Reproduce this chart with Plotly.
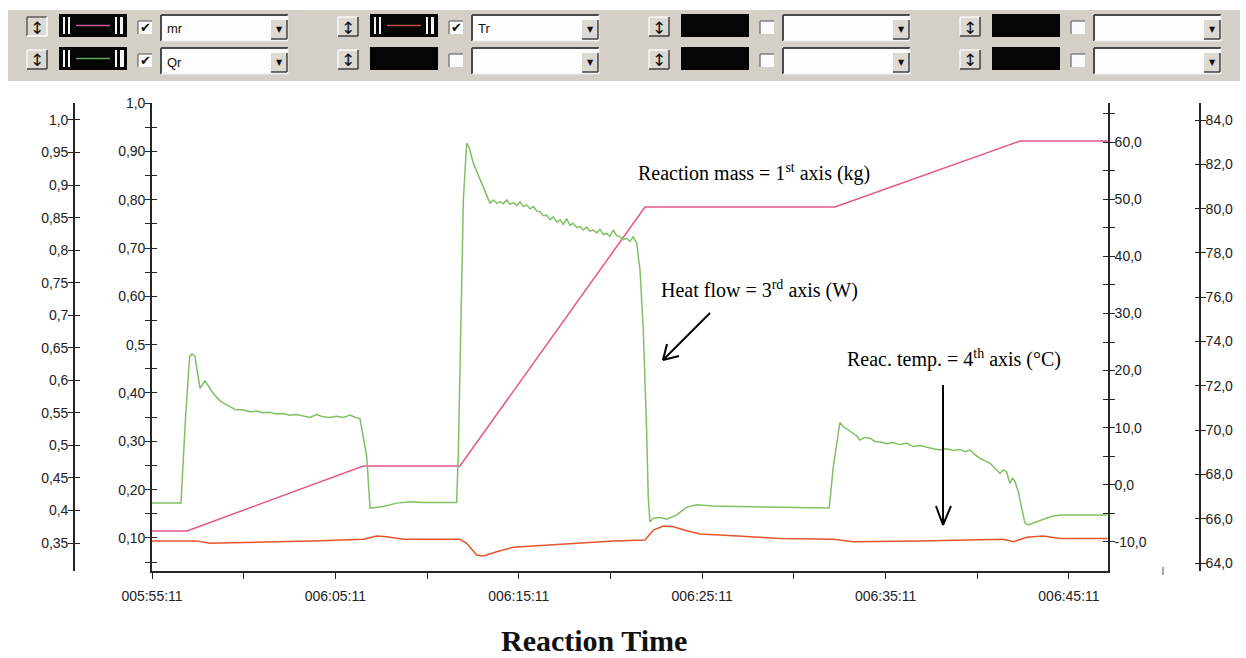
import plotly.graph_objects as go

FIG_W, FIG_H = 1246, 658

# ---------------- data ----------------
time_tick_vals = [0, 10, 20, 30, 40, 50]
time_tick_text = ["005:55:11", "006:05:11", "006:15:11", "006:25:11", "006:35:11", "006:45:11"]
time_minor = [5, 15, 25, 35, 45]

mass_min = [0, 1.91, 11.52, 16.79, 26.88, 37.24, 47.33, 52.13]
mass_kg = [0.3685, 0.3685, 0.4683, 0.4683, 0.8663, 0.8663, 0.9677, 0.9677]

heat_min = [0, 1.58, 1.82, 2.05, 2.18, 2.34, 2.62, 2.89, 3.34, 3.71, 4.07, 4.53, 4.98, 5.35, 5.71,
            6.07, 6.43, 6.8, 7.16, 7.52, 7.89, 8.25, 8.61, 8.98, 9.34, 9.71, 10.07, 10.43, 10.8,
            11.1, 11.34, 11.52, 11.71, 11.89, 12.25, 12.61, 13.34, 14.07, 14.79, 16.61,
            16.7, 16.83, 16.98, 17.16, 17.3, 17.52, 17.88, 18.25, 18.43, 18.61, 18.8, 18.98,
            19.16, 19.34, 19.53, 19.71, 19.89, 20.07, 20.25, 20.43, 20.62, 20.8, 20.98, 21.16,
            21.34, 21.52, 21.7, 21.88, 22.07, 22.25, 22.43, 22.61, 22.79, 22.97, 23.16, 23.34,
            23.52, 23.7, 23.88, 24.06, 24.25, 24.43, 24.61, 24.79, 24.97, 25.15, 25.34, 25.52,
            25.7, 25.88, 26.06, 26.24, 26.43, 26.61, 26.79, 26.97, 27.06, 27.15,
            27.34, 27.7, 28.06, 28.6, 29.16, 29.7, 30.6, 31.88, 33.7, 35.51, 36.93, 37.15,
            37.51, 37.69, 37.96, 38.24, 38.42, 38.6, 38.88, 39.15, 39.42, 39.69, 40.06, 40.42,
            40.79, 41.15, 41.51, 41.88, 42.24, 42.6, 42.97, 43.33, 43.69, 44.06, 44.33, 44.6,
            44.88, 45.15, 45.42, 45.69, 45.97, 46.24, 46.42, 46.6, 46.78, 46.92, 47.06, 47.24,
            47.42, 47.6, 47.78, 48.1, 48.42, 48.8, 49.14, 49.6, 50.05, 52.1]
heat_w = [-3.2, -3.2, 11.3, 22.4, 22.9, 22.5, 16.9, 18.2, 16.0, 14.7, 14.0, 13.2, 13.1, 12.8, 12.9,
          12.6, 12.7, 12.4, 12.5, 12.2, 12.3, 12.0, 11.8, 12.3, 11.9, 11.8, 12.0, 11.8, 12.2,
          11.8, 11.6, 8.4, 4.9, -4.1, -4.0, -3.8, -3.2, -2.95, -3.1, -3.1,
          5.0, 27.1, 50.0, 59.8, 59.0, 56.3, 53.4, 50.4, 49.3, 49.85, 49.3, 49.55,
          49.2, 49.85, 49.1, 49.4, 48.9, 49.55, 48.7, 49.0, 48.3, 48.7, 47.9, 47.8,
          47.1, 47.2, 46.4, 46.9, 46.0, 46.35, 45.6, 46.6, 45.4, 45.8, 45.0, 45.2,
          44.6, 45.1, 44.4, 44.6, 44.1, 44.7, 43.8, 44.0, 43.5, 44.6, 43.6, 43.4,
          42.9, 43.15, 42.6, 43.4, 42.3, 37.6, 27.1, 9.6, -2.1, -6.45,
          -5.85, -5.7, -6.0, -5.3, -3.9, -3.5, -3.7, -3.8, -3.9, -3.9, -4.05, 3.2,
          10.9, 10.2, 9.6, 9.0, 8.6, 7.85, 8.3, 8.15, 7.6, 7.55, 7.2, 7.4,
          7.0, 7.3, 6.7, 6.9, 6.55, 6.3, 6.1, 6.3, 6.0, 6.2, 5.8, 6.1,
          5.3, 4.65, 4.2, 3.8, 2.9, 2.0, 2.6, 2.3, 0.25, 1.2, 0.55, -1.2,
          -4.0, -6.7, -7.0, -6.6, -6.15, -5.8, -5.45, -5.3, -5.3, -5.3]

temp_min = [0, 2.44, 3.16, 3.9, 4.62, 6.07, 7.4, 8.8, 10.2, 11.52, 12.25, 12.8, 13.7, 16.79,
            17.16, 17.7, 18.07, 18.79, 19.7, 21.52, 23.34, 25.15, 26.88, 27.34, 27.88, 28.43,
            29.16, 29.88, 30.97, 32.42, 34.24, 37.15, 38.24, 41.88, 46.42, 46.97, 47.7, 48.6,
            49.51, 52.1]
temp_c = [65.0, 65.0, 64.89, 64.9, 64.92, 64.95, 64.97, 65.0, 65.02, 65.07, 65.22, 65.19, 65.07, 65.07,
          64.89, 64.36, 64.32, 64.51, 64.71, 64.81, 64.92, 65.0, 65.04, 65.49, 65.67, 65.64,
          65.46, 65.31, 65.26, 65.19, 65.11, 65.07, 64.96, 65.0, 65.07, 64.96, 65.16, 65.22,
          65.11, 65.11]

axis2_vals = [0.1, 0.2, 0.3, 0.4, 0.5, 0.6, 0.7, 0.8, 0.9, 1.0]
axis2_text = ["0,10", "0,20", "0,30", "0,40", "0,5", "0,60", "0,70", "0,80", "0,90", "1,0"]
axis2_minor = [0.05, 0.15, 0.25, 0.35, 0.45, 0.55, 0.65, 0.75, 0.85, 0.95]

axis1_vals = [0.35, 0.4, 0.45, 0.5, 0.55, 0.6, 0.65, 0.7, 0.75, 0.8, 0.85, 0.9, 0.95, 1.0]
axis1_text = ["0,35", "0,4", "0,45", "0,5", "0,55", "0,6", "0,65", "0,7", "0,75", "0,8", "0,85", "0,9", "0,95", "1,0"]

axis3_vals = [-10, 0, 10, 20, 30, 40, 50, 60]
axis3_text = ["-10,0", "0,0", "10,0", "20,0", "30,0", "40,0", "50,0", "60,0"]
axis3_minor = [-5, 5, 15, 25, 35, 45, 55, 65]

axis4_vals = [64, 66, 68, 70, 72, 74, 76, 78, 80, 82, 84]
axis4_text = ["64,0", "66,0", "68,0", "70,0", "72,0", "74,0", "76,0", "78,0", "80,0", "82,0", "84,0"]

# ---------------- geometry helpers ----------------
def px(x):
    return x / FIG_W

def py(y):
    return 1 - y / FIG_H

PLOT_L, PLOT_R, PLOT_T, PLOT_B = 152, 1108, 103, 571
XDOM = [px(PLOT_L), px(PLOT_R)]
YDOM = [py(PLOT_B), py(PLOT_T)]

X_RANGE = [0, 52.13]
R_AX2 = [0.0317, 1.0]
R_AX1 = [0.307, 1.0261]
R_AX3 = [-15.08, 66.83]
R_AX4 = [63.64, 84.77]

PINK = "#e2568c"
GREEN = "#80c063"
RED = "#e8552b"
AXC = "#262626"
TICKFONT = dict(family="Liberation Sans, Arial", size=14, color="#222222")

fig = go.Figure()
fig.add_trace(go.Scatter(x=mass_min, y=mass_kg, mode="lines", line=dict(color=PINK, width=1.5),
                         xaxis="x", yaxis="y2", name="mr"))
fig.add_trace(go.Scatter(x=heat_min, y=heat_w, mode="lines", line=dict(color=GREEN, width=1.5),
                         xaxis="x", yaxis="y3", name="Qr"))
fig.add_trace(go.Scatter(x=temp_min, y=temp_c, mode="lines", line=dict(color=RED, width=1.5),
                         xaxis="x", yaxis="y4", name="Tr"))
for ya in ["y", "y5", "y6", "y7", "y8"]:
    fig.add_trace(go.Scatter(x=[], y=[], xaxis="x", yaxis=ya, showlegend=False))


def yax(rng, vals, text, side, anchor="x", position=None, overlay=None, inside=False,
        minor_vals=None, standoff=-3):
    d = dict(range=rng, domain=YDOM, tickmode="array", tickvals=vals, ticktext=text,
             side=side, anchor=anchor, showgrid=False, zeroline=False, automargin=False,
             tickfont=TICKFONT, fixedrange=True)
    if position is not None:
        d["position"] = position
    if overlay:
        d["overlaying"] = overlay
    tdir = "inside" if inside else "outside"
    d.update(ticks=tdir, ticklen=5, tickwidth=1.3, tickcolor=AXC)
    if minor_vals:
        d["minor"] = dict(tickmode="array", tickvals=minor_vals, ticks=tdir, ticklen=5,
                          tickwidth=1.3, tickcolor=AXC, showgrid=False)
    if inside:
        d.update(showticklabels=False, showline=False)
    else:
        d.update(showline=True, linecolor=AXC, linewidth=1.6, ticklabelstandoff=standoff)
    return d


fig.update_layout(
    template="none",
    width=FIG_W, height=FIG_H,
    margin=dict(l=0, r=0, t=0, b=0),
    paper_bgcolor="white", plot_bgcolor="white",
    showlegend=False,
    xaxis=dict(domain=XDOM, range=X_RANGE, tickmode="array",
               tickvals=time_tick_vals, ticktext=time_tick_text,
               ticks="outside", ticklen=6, tickwidth=1.3, tickcolor=AXC,
               minor=dict(tickmode="array", tickvals=time_minor, ticks="outside", ticklen=6,
                          tickwidth=1.3, tickcolor=AXC, showgrid=False),
               showline=True, linecolor=AXC, linewidth=1.6, showgrid=False, zeroline=False,
               automargin=False, tickfont=dict(family="Liberation Sans, Arial", size=14, color="#222222"),
               anchor="y", fixedrange=True, ticklabelstandoff=5),
    yaxis=yax(R_AX2, axis2_vals, axis2_text, "left", minor_vals=axis2_minor),
    yaxis5=yax(R_AX2, axis2_vals, axis2_text, "left", overlay="y", inside=True, minor_vals=axis2_minor),
    yaxis2=yax(R_AX1, axis1_vals, axis1_text, "left", anchor="free", position=px(74), overlay="y"),
    yaxis6=yax(R_AX1, axis1_vals, axis1_text, "left", anchor="free", position=px(74), overlay="y", inside=True),
    yaxis3=yax(R_AX3, axis3_vals, axis3_text, "right", overlay="y", minor_vals=axis3_minor),
    yaxis7=yax(R_AX3, axis3_vals, axis3_text, "right", overlay="y", inside=True, minor_vals=axis3_minor),
    yaxis4=yax(R_AX4, axis4_vals, axis4_text, "right", anchor="free", position=px(1200), overlay="y"),
    yaxis8=yax(R_AX4, axis4_vals, axis4_text, "right", anchor="free", position=px(1200), overlay="y", inside=True),
)

# ---------------- toolbar (decoration) ----------------
shapes = []
annots = []
TB = "#d4d0c8"


def rect(x0, y0, x1, y1, fill, lc=None, lw=0):
    shapes.append(dict(type="rect", xref="paper", yref="paper", x0=px(x0), x1=px(x1),
                       y0=py(y1), y1=py(y0), fillcolor=fill,
                       line=dict(color=lc or fill, width=lw), layer="above"))


def seg(x0, y0, x1, y1, color, w):
    shapes.append(dict(type="line", xref="paper", yref="paper", x0=px(x0), x1=px(x1),
                       y0=py(y0), y1=py(y1), line=dict(color=color, width=w), layer="above"))


def text(x, y, s, size, color="black", family="Liberation Sans, Arial", xanchor="left"):
    annots.append(dict(x=px(x), y=py(y), xref="paper", yref="paper", text=s, showarrow=False,
                       xanchor=xanchor, yanchor="middle",
                       font=dict(family=family, size=size, color=color)))


rect(8, 10, 1240, 81, TB)

row_labels = [["mr", "Tr", "", ""], ["Qr", "", "", ""]]
row_colors = [["#c65a9c", "#c0524a", None, None], ["#5ea65a", None, None, None]]

for r in range(2):
    oy = 33 * r
    for g in range(4):
        ox = 311 * g
        bx0, by0, bx1, by1 = 27 + ox, 17 + oy, 47 + ox, 36 + oy
        rect(bx0, by0, bx1, by1, "#dcd9d3")
        pressed = (r == 0 and g == 0)
        hi, lo = ("#404040", "#ffffff") if pressed else ("#ffffff", "#404040")
        seg(bx0, by0, bx1, by0, hi, 1.2)
        seg(bx0, by0, bx0, by1, hi, 1.2)
        seg(bx0, by1, bx1, by1, lo, 1.5)
        seg(bx1, by0, bx1, by1, lo, 1.5)
        text((bx0 + bx1) / 2, (by0 + by1) / 2 + 1, "↕", 17, "#111111", "DejaVu Sans", "center")
        sx0, sy0, sx1, sy1 = 59 + ox, 14 + oy, 127 + ox, 37 + oy
        rect(sx0, sy0, sx1, sy1, "#050505")
        col = row_colors[r][g]
        if col:
            for bx, bw in [(4, 2), (9, 2), (56, 2), (61, 3 if r == 0 else 4)]:
                rect(sx0 + bx, sy0 + 3, sx0 + bx + bw, sy1 - 3, "#f4f4f4")
            seg(sx0 + 17, (sy0 + sy1) / 2, sx0 + 51, (sy0 + sy1) / 2, col, 1.5)
        cx0, cy0, cx1, cy1 = 138 + ox, 21 + oy, 152 + ox, 34 + oy
        rect(cx0, cy0, cx1, cy1, "#fbfbfb")
        seg(cx0, cy0, cx1, cy0, "#707070", 1.3)
        seg(cx0, cy0, cx0, cy1, "#707070", 1.3)
        if row_labels[r][g]:
            text((cx0 + cx1) / 2, (cy0 + cy1) / 2, "✔", 13, "#111111", "DejaVu Sans", "center")
        dx0, dy0, dx1, dy1 = 161 + ox, 15 + oy, 288 + ox, 41 + oy
        rect(dx0, dy0, dx1, dy1, "#fdfdfd")
        seg(dx0, dy0, dx1, dy0, "#4a4a4a", 2)
        seg(dx0, dy0, dx0, dy1, "#4a4a4a", 2)
        seg(dx0, dy1, dx1, dy1, "#ececec", 1)
        seg(dx1, dy0, dx1, dy1, "#ececec", 1)
        ax0, ay0, ax1, ay1 = 271 + ox, 20 + oy, 287 + ox, 39 + oy
        rect(ax0, ay0, ax1, ay1, "#dcd9d3")
        seg(ax0, ay1, ax1, ay1, "#404040", 1.5)
        seg(ax1, ay0, ax1, ay1, "#404040", 1.5)
        text((ax0 + ax1) / 2, (ay0 + ay1) / 2, "▼", 8, "#111111", "DejaVu Sans", "center")
        if row_labels[r][g]:
            text(dx0 + 4, (dy0 + dy1) / 2 + 1, row_labels[r][g], 13, "#111111",
                 "Liberation Sans, Arial")

# ---------------- chart annotations ----------------
SERIF = "Liberation Serif, Times New Roman"
text(636, 172, "Reaction mass = 1<sup>st</sup> axis (kg)", 20, "black", SERIF)
text(659, 290, "Heat flow = 3<sup>rd</sup> axis (W)", 20, "black", SERIF)
text(845, 358, "Reac. temp. = 4<sup>th</sup> axis (°C)", 20, "black", SERIF)

seg(710, 313, 663, 360, "black", 2)
seg(663, 360, 679, 356, "black", 2)
seg(663, 360, 667, 344, "black", 2)
seg(943, 385, 943, 525, "black", 2)
seg(943, 525, 936, 506, "black", 2)
seg(943, 525, 951, 506, "black", 2)

seg(1163, 567, 1163, 575, "#555555", 1)

annots.append(dict(x=px(594), y=py(640), xref="paper", yref="paper",
                   text="<b>Reaction Time</b>", showarrow=False, xanchor="center", yanchor="middle",
                   font=dict(family=SERIF, size=30, color="#111111")))

fig.update_layout(shapes=shapes, annotations=annots)

fig.write_html("out.html", config={"displayModeBar": False},
               post_script="document.body.style.margin='0px';")
